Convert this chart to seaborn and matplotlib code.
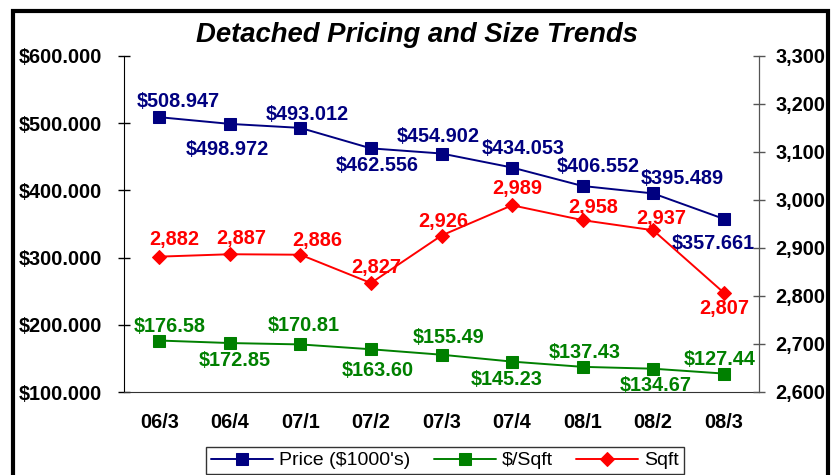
import matplotlib
matplotlib.use("Agg")
import matplotlib.pyplot as plt
import seaborn as sns
import pandas as pd
from matplotlib.patches import Rectangle

quarters = ["06/3", "06/4", "07/1", "07/2", "07/3", "07/4", "08/1", "08/2", "08/3"]
price = [508.947, 498.972, 493.012, 462.556, 454.902, 434.053, 406.552, 395.489, 357.661]
per_sqft = [176.58, 172.85, 170.81, 163.60, 155.49, 145.23, 137.43, 134.67, 127.44]
sqft = [2882, 2887, 2886, 2827, 2926, 2989, 2958, 2937, 2807]

# label placement (pixel offsets of the label centre from its marker; +dy = downward)
price_off = [(19, -17), (-3, 24), (7, -15), (6, 16), (-3, -19), (11, -21), (16, -21), (29, -16), (-10, 23)]
psf_off = [(10, -16), (5, 16), (3, -20), (6.5, 20), (7, -19), (-5, 16), (2, -16), (3, 15), (-4, -16)]
sqft_off = [(15, -19), (11, -17), (17, -16), (5, -17), (2, -16), (5, -18), (11, -14), (8, -13), (1, 14)]

sns.set_style("white")
plt.rcParams["font.family"] = ["Liberation Sans", "DejaVu Sans"]
plt.rcParams["text.color"] = "black"
plt.rcParams["xtick.color"] = "black"
plt.rcParams["ytick.color"] = "black"
plt.rcParams["axes.labelcolor"] = "black"

df = pd.DataFrame({"idx": range(len(quarters)), "q": quarters,
                   "price": price, "psf": per_sqft, "sqft": sqft})

W, H = 831, 475
fig = plt.figure(figsize=(W / 100, H / 100), dpi=100)
L, R, T, B = 124, 759, 56, 392
ax = fig.add_axes([L / W, 1 - B / H, (R - L) / W, (B - T) / H])
ax2 = ax.twinx()

navy, green, red = "#000080", "#008000", "#FF0000"

sns.lineplot(data=df, x="idx", y="price", ax=ax, color=navy, marker="s",
             markersize=9, markeredgecolor=navy, linewidth=1.4, label="Price ($1000's)", legend=False)
sns.lineplot(data=df, x="idx", y="psf", ax=ax, color=green, marker="s",
             markersize=9, markeredgecolor=green, linewidth=1.4, label="$/Sqft", legend=False)
sns.lineplot(data=df, x="idx", y="sqft", ax=ax2, color=red, marker="D",
             markersize=7, markeredgecolor=red, linewidth=1.4, label="Sqft", legend=False)

def annotate(axis, ys, offs, fmt, color):
    for i, (y, (dx, dy)) in enumerate(zip(ys, offs)):
        axis.annotate(fmt(y), (i, y), xytext=(dx, -(dy + 7)), textcoords="offset pixels",
                      ha="center", va="baseline", fontsize=14.3, fontweight="bold", color=color)

annotate(ax, price, price_off, lambda v: f"${v:.3f}", navy)
annotate(ax, per_sqft, psf_off, lambda v: f"${v:.2f}", green)
annotate(ax2, sqft, sqft_off, lambda v: f"{v:,}", red)

ax.set_xlim(-0.5, len(quarters) - 0.5)
ax.set_ylim(100, 600)
ax2.set_ylim(2600, 3300)
ax.set_yticks(range(100, 601, 100))
ax.set_yticklabels([f"${v}.000" for v in range(100, 601, 100)])
ax2.set_yticks(range(2600, 3301, 100))
ax2.set_yticklabels([f"{v:,}" for v in range(2600, 3301, 100)])

ax.set_xticks([i - 0.5 for i in range(len(quarters) + 1)])
ax.set_xticklabels([])
ax.set_xticks(range(len(quarters)), minor=True)
ax.set_xticklabels(quarters, minor=True)
ax.tick_params(axis="x", which="major", direction="inout", length=8, width=1, color="black")
ax.tick_params(axis="x", which="minor", length=0, pad=15, labelsize=14.3, labelcolor="black")
ax.tick_params(axis="y", direction="inout", length=8, width=1, pad=12, labelsize=14.3,
               color="black", labelcolor="black")
ax2.tick_params(axis="y", direction="inout", length=8, width=1, pad=8, labelsize=14.3,
                color="#555555", labelcolor="black")
for lab in ax.get_xticklabels(minor=True) + ax.get_yticklabels() + ax2.get_yticklabels():
    lab.set_fontweight("bold")
ax.set_xlabel("")
ax.set_ylabel("")
ax2.set_ylabel("")

for a in (ax, ax2):
    a.spines["top"].set_visible(False)
    a.grid(False)
ax.spines["left"].set_color("black")
ax.spines["bottom"].set_color("#333333")
ax2.spines["right"].set_color("#555555")
ax2.spines["left"].set_visible(False)
ax2.spines["bottom"].set_visible(False)

fig.text(417 / W, 1 - 35 / H, "Detached Pricing and Size Trends", ha="center", va="center",
         fontsize=19.8, fontweight="bold", fontstyle="italic", color="black")

h1, l1 = ax.get_legend_handles_labels()
h2, l2 = ax2.get_legend_handles_labels()
leg = fig.legend(h1 + h2, l1 + l2, loc="upper left", bbox_to_anchor=(206 / W, 1 - 447 / H),
                 ncol=3, frameon=True, fancybox=False, fontsize=14, handlelength=3.2,
                 columnspacing=1.2, borderpad=0.25, handletextpad=0.3, borderaxespad=0)
leg.get_frame().set_edgecolor("black")
leg.get_frame().set_linewidth(1)
for t in leg.get_texts():
    t.set_color("black")

fig.patches.append(Rectangle((12.5 / W, -0.1), (827.5 - 12.5) / W, 1.1 - 11.5 / H,
                             transform=fig.transFigure, fill=False, edgecolor="black",
                             linewidth=3, zorder=10))

fig.savefig("out.png", dpi=100)
